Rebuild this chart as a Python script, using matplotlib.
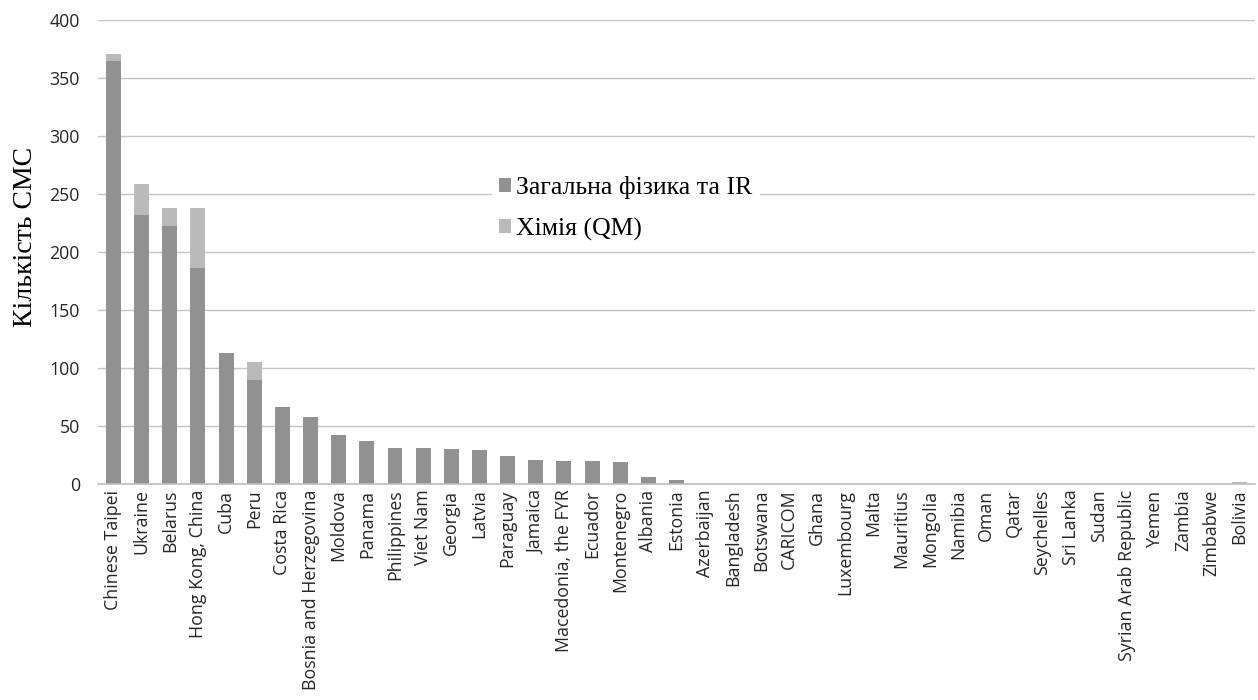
import numpy as np
import matplotlib.pyplot as plt

countries = ["Chinese Taipei", "Ukraine", "Belarus", "Hong Kong, China", "Cuba", "Peru",
             "Costa Rica", "Bosnia and Herzegovina", "Moldova", "Panama", "Philippines",
             "Viet Nam", "Georgia", "Latvia", "Paraguay", "Jamaica", "Macedonia, the FYR",
             "Ecuador", "Montenegro", "Albania", "Estonia", "Azerbaijan", "Bangladesh",
             "Botswana", "CARICOM", "Ghana", "Luxembourg", "Malta", "Mauritius", "Mongolia",
             "Namibia", "Oman", "Qatar", "Seychelles", "Sri Lanka", "Sudan",
             "Syrian Arab Republic", "Yemen", "Zambia", "Zimbabwe", "Bolivia"]

physics = [365, 232, 222, 186, 113, 90, 66, 58, 42, 37, 31, 31, 30, 29, 24, 21, 20,
           19.5, 19, 6, 3.5, 0, 0, 0, 0, 0, 0, 0, 0, 0, 0, 0, 0, 0, 0, 0, 0, 0, 0, 0, 0]
chemistry = [6, 27, 16, 52, 0, 15, 0, 0, 0, 0, 0, 0, 0, 0, 0, 0, 0,
             0, 0, 0, 0, 0, 0, 0, 0, 0, 0, 0, 0, 0, 0, 0, 0, 0, 0, 0, 0, 0, 0, 0, 2]

series_names = ["Загальна фізика та IR", "Хімія (QM)"]
y_ticks = [0, 50, 100, 150, 200, 250, 300, 350, 400]

fig = plt.figure(figsize=(12.58, 7), dpi=100)
ax = fig.add_axes([98 / 1258, 1 - 484 / 700, (1255 - 98) / 1258, 464 / 700])

x = np.arange(len(countries))
ax.bar(x, physics, width=0.53, color="#919191", label=series_names[0], zorder=2)
ax.bar(x, chemistry, width=0.53, bottom=physics, color="#bababa", label=series_names[1], zorder=2)

ax.set_xlim(-0.55, len(countries) - 0.45)
ax.set_ylim(0, 400)
ax.set_yticks(y_ticks)
ax.yaxis.grid(True, color="#c4c4c4", linewidth=1)
ax.set_axisbelow(True)
for s in ["top", "right", "left"]:
    ax.spines[s].set_visible(False)
ax.spines["bottom"].set_color("#bdbdbd")
ax.spines["bottom"].set_linewidth(1.2)
ax.tick_params(axis="both", length=0, labelsize=12.8, colors="#262626")
ax.tick_params(axis="y", pad=13)
ax.tick_params(axis="x", pad=4)
ax.set_xticks(x)
ax.set_xticklabels(countries, rotation=90, family="Open Sans")
for lbl in ax.get_yticklabels():
    lbl.set_family("Open Sans")

ax.set_ylabel("Кількість CMC", family="Liberation Serif", fontsize=20, labelpad=8)
ax.yaxis.label.set_y(0.532)

leg = ax.legend(loc="upper left", bbox_to_anchor=(0.329, 0.708), frameon=True,
                prop={"family": "Liberation Serif", "size": 18.5},
                handlelength=0.45, handleheight=0.45, handletextpad=0.2,
                borderpad=0.3, labelspacing=0.72)
leg.get_frame().set_facecolor("white")
leg.get_frame().set_edgecolor("none")
leg.get_frame().set_alpha(1)

fig.savefig("out.png", dpi=100)
